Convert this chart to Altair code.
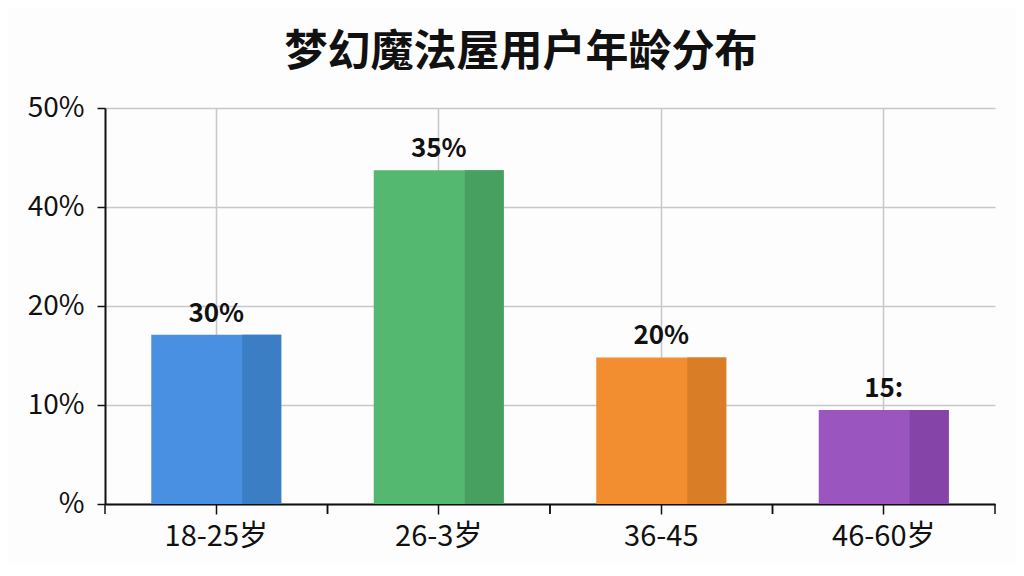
import altair as alt
import pandas as pd

categories = ["18-25岁", "26-3岁", "36-45", "46-60岁"]
bar_values = [17.1, 33.7, 14.8, 9.5]
bar_labels = ["30%", "35%", "20%", "15:"]
main_colors = ["#4A90E2", "#55B870", "#F28E30", "#9A55BF"]
dark_colors = ["#3B7EC4", "#47A060", "#D97E26", "#8544A8"]
y_tick_values = [0, 10, 20, 30, 40]
y_tick_labels = ["%", "10%", "20%", "40%", "50%"]
title_text = "梦幻魔法屋用户年龄分布"

df = pd.DataFrame({"cat": categories, "val": bar_values, "lab": bar_labels})

label_expr = " : ".join(
    f"datum.value == {v} ? '{t}'" for v, t in zip(y_tick_values, y_tick_labels)
) + " : ''"

FONT = "Noto Sans CJK SC"

x_axis = alt.Axis(
    title=None, labelAngle=0, labelFontSize=29, labelColor="#111", labelFont=FONT,
    labelPadding=8, tickSize=10, tickColor="#111", tickWidth=1.5,
    domainColor="#111", domainWidth=2, grid=True, gridColor="#c8c8c8", gridWidth=1.5,
)
y_axis = alt.Axis(
    title=None, values=y_tick_values, labelExpr=label_expr, labelFontSize=28,
    labelColor="#111", labelFont=FONT, labelPadding=13, tickSize=8, tickColor="#111",
    tickWidth=1.5, domainColor="#111", domainWidth=2, grid=True,
    gridColor="#c8c8c8", gridWidth=1.5,
)

x_enc = alt.X("cat:N", sort=categories, axis=x_axis, scale=alt.Scale(paddingInner=0, paddingOuter=0))
y_enc = alt.Y("val:Q", axis=y_axis, scale=alt.Scale(domain=[0, 40]))

base = alt.Chart(df)

bars = base.mark_bar(size=130).encode(
    x=x_enc,
    y=y_enc,
    color=alt.Color("cat:N", sort=categories, scale=alt.Scale(domain=categories, range=main_colors), legend=None),
)

dark = base.mark_bar(size=39, xOffset=45.5).encode(
    x=alt.X("cat:N", sort=categories),
    y=alt.Y("val:Q"),
    fill=alt.Fill("cat:N", sort=categories, scale=alt.Scale(domain=categories, range=dark_colors), legend=None),
)

texts = base.mark_text(fontSize=26, fontWeight="bold", font=FONT, baseline="alphabetic", dy=-13, color="#111").encode(
    x=alt.X("cat:N", sort=categories),
    y=alt.Y("val:Q"),
    text="lab:N",
)

tick_l = base.mark_rule(color="#111", strokeWidth=1.5).encode(
    x=alt.X("cat:N", sort=categories, bandPosition=0),
    y=alt.value(396), y2=alt.value(406),
)
tick_r = base.mark_rule(color="#111", strokeWidth=1.5).encode(
    x=alt.X("cat:N", sort=categories, bandPosition=1),
    y=alt.value(396), y2=alt.value(406),
)

chart = alt.layer(bars, dark, tick_l, tick_r, texts).resolve_scale(color="independent").properties(
    width=890,
    height=396,
    padding={"left": 97, "top": 100, "right": 21, "bottom": 60},
    autosize=alt.AutoSizeParams(type="none"),
    background="#fdfdfd",
    title=alt.TitleParams(
        title_text, fontSize=43, fontWeight="bold", font=FONT, color="#111",
        anchor="middle", dx=-29, offset=19,
    ),
).configure_view(strokeWidth=0)

chart.save("out.html", embed_options={"renderer": "svg", "actions": False})
